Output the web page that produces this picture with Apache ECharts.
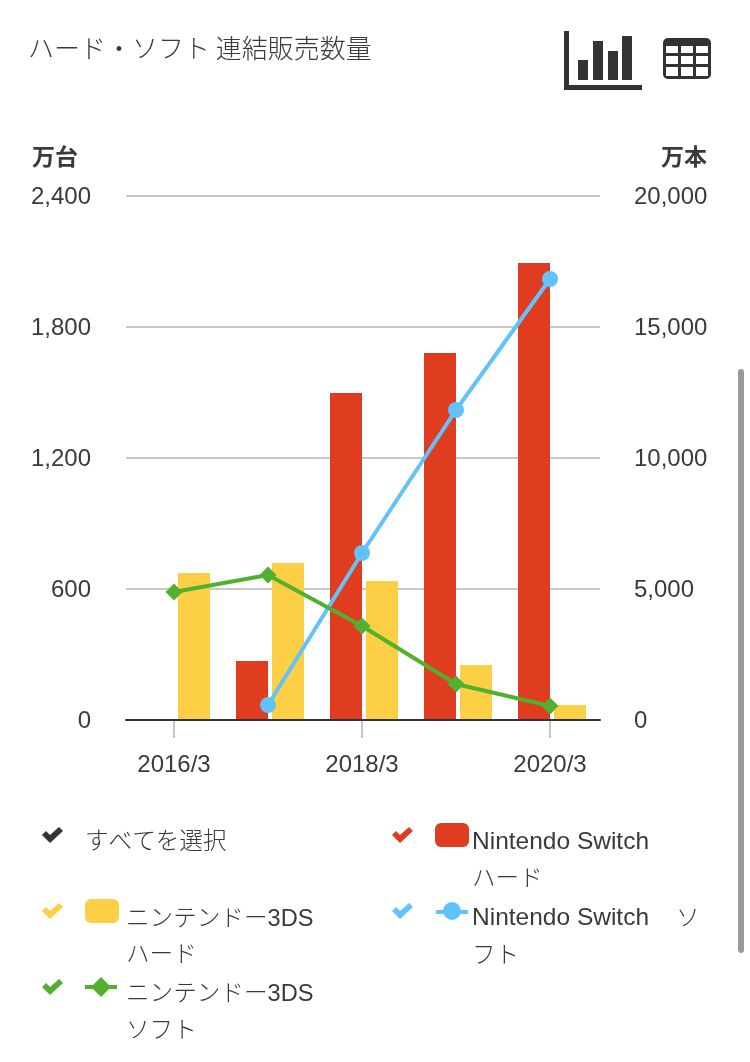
<!DOCTYPE html>
<html><head><meta charset="utf-8">
<style>html,body{margin:0;padding:0;background:#fff;overflow:hidden}#c{width:750px;height:1062px}</style>
<script src="https://cdn.jsdelivr.net/npm/echarts@6/dist/echarts.min.js"></script></head>
<body><div id="c"></div>
<script>
const categories = ['2016/3','2017/3','2018/3','2019/3','2020/3'];
const switchHard = [null,270,1498,1681,2093];
const ds3Hard = [673,719,637,252,69];
const ds3Soft = [4885,5534,3588,1374,534];
const switchSoft = [null,573,6374,11832,16832];
const FONT = '"Liberation Sans","Noto Sans CJK JP",sans-serif';
const CJK = '"Noto Sans CJK JP",sans-serif';
const TXT = '#3a3a3a';
const RED='#e03c1f', YEL='#fdcf45', GRN='#52b02f', BLU='#62c2fb', DARK='#333333';
const fmt = v => v.toLocaleString('en-US');
function chk(x,y,c){
  const pts=[[0,8],[4,4],[8,8],[17,0],[21,4],[8,16]].map(p=>[x+p[0],y+p[1]]);
  return {type:'polygon',shape:{points:pts},style:{fill:c}};
}
function txt(x,y,s,o){return {type:'text',x:x,y:y,style:Object.assign({text:s,font:'300 23.6px '+FONT,fill:TXT,textVerticalAlign:'middle'},o||{})};}
function tableIcon(){
  const els=[{type:'rect',shape:{x:663,y:38,width:48,height:41,r:5},style:{fill:DARK}}];
  [666,681,696].forEach(x=>[[46,7],[56,8],[67,9]].forEach(r=>{
    els.push({type:'rect',shape:{x:x,y:r[0],width:12,height:r[1]},style:{fill:'#fff'}});
  }));
  return els;
}
const NS = {font:'300 24.5px '+FONT};
const chart = echarts.init(document.getElementById('c'),null,{renderer:'canvas'});
chart.setOption({
  animation:false,
  grid:[
    {left:126,width:474,top:196,height:524},
    {left:127,width:470,top:196,height:524}
  ],
  xAxis:[
    {type:'category',gridIndex:0,data:categories,z:3,
      axisLine:{lineStyle:{color:'#333',width:2}},axisTick:{show:false},axisLabel:{show:false}},
    {type:'category',gridIndex:1,data:categories,
      axisLine:{show:false},
      axisTick:{show:true,alignWithLabel:true,length:18,lineStyle:{color:'#c8c8c8',width:2}},
      axisLabel:{show:true,interval:1,margin:33,fontFamily:FONT,fontSize:24,color:TXT}}
  ],
  yAxis:[
    {type:'value',gridIndex:0,min:0,max:2400,interval:600,
      axisLine:{show:false},axisTick:{show:false},axisLabel:{show:false},
      splitLine:{lineStyle:{color:'#c8c8c8',width:2}}},
    {type:'value',gridIndex:1,min:0,max:2400,interval:600,position:'left',
      axisLine:{show:false},axisTick:{show:false},splitLine:{show:false},
      axisLabel:{margin:36,verticalAlign:'top',lineHeight:3,fontFamily:FONT,fontSize:24,color:TXT,formatter:fmt}},
    {type:'value',gridIndex:1,min:0,max:20000,interval:5000,position:'right',
      axisLine:{show:false},axisTick:{show:false},splitLine:{show:false},
      axisLabel:{margin:37,verticalAlign:'top',lineHeight:3,fontFamily:FONT,fontSize:24,color:TXT,formatter:fmt}}
  ],
  series:[
    {name:'spacer',type:'bar',xAxisIndex:1,yAxisIndex:1,data:[],barWidth:3.556,barGap:'12.5%',silent:true},
    {name:'Nintendo Switch ハード',type:'bar',xAxisIndex:1,yAxisIndex:1,data:switchHard,barWidth:32,barGap:'12.5%',itemStyle:{color:RED},z:2},
    {name:'ニンテンドー3DS ハード',type:'bar',xAxisIndex:1,yAxisIndex:1,data:ds3Hard,barWidth:32,barGap:'12.5%',itemStyle:{color:YEL},z:2},
    {name:'Nintendo Switch ソフト',type:'line',xAxisIndex:1,yAxisIndex:2,data:switchSoft,symbol:'circle',symbolSize:16,
      lineStyle:{color:BLU,width:4},itemStyle:{color:BLU},z:5},
    {name:'ニンテンドー3DS ソフト',type:'line',xAxisIndex:1,yAxisIndex:2,data:ds3Soft,symbol:'diamond',symbolSize:17,
      lineStyle:{color:GRN,width:4},itemStyle:{color:GRN},z:6}
  ],
  graphic:[
    txt(28,48,'ハード・ソフト 連結販売数量',{font:'300 26px '+CJK}),
    txt(32,156,'万台',{font:'bold 23px '+CJK}),
    {type:'text',x:707,y:156,style:{text:'万本',font:'bold 23px '+CJK,fill:TXT,textAlign:'right',textVerticalAlign:'middle'}},
    {type:'rect',shape:{x:564,y:31,width:5,height:59},style:{fill:DARK}},
    {type:'rect',shape:{x:564,y:85,width:78,height:5},style:{fill:DARK}},
    {type:'rect',shape:{x:578,y:60,width:10,height:20},style:{fill:DARK}},
    {type:'rect',shape:{x:593,y:41,width:10,height:39},style:{fill:DARK}},
    {type:'rect',shape:{x:608,y:51,width:10,height:29},style:{fill:DARK}},
    {type:'rect',shape:{x:622,y:36,width:10,height:44},style:{fill:DARK}},
    ...tableIcon(),
    chk(42,827,DARK), txt(85,842,'すべてを選択'),
    chk(392,827,RED),
    {type:'rect',shape:{x:435,y:823,width:34,height:24,r:6},style:{fill:RED}},
    txt(472,842,'Nintendo Switch',NS), txt(472,879,'ハード'),
    chk(42,903,YEL),
    {type:'rect',shape:{x:85,y:899,width:34,height:24,r:6},style:{fill:YEL}},
    txt(126,919,'ニンテンドー3DS'), txt(126,955,'ハード'),
    chk(392,903,BLU),
    {type:'rect',shape:{x:436,y:910,width:32,height:4},style:{fill:BLU}},
    {type:'circle',shape:{cx:452,cy:911,r:9},style:{fill:BLU}},
    txt(472,918,'Nintendo Switch',NS), txt(676,919,'ソ'), txt(472,956,'フト'),
    chk(42,979,GRN),
    {type:'rect',shape:{x:85,y:985,width:32,height:4},style:{fill:GRN}},
    {type:'polygon',shape:{points:[[91,987],[101,977],[111,987],[101,997]]},style:{fill:GRN}},
    txt(126,994,'ニンテンドー3DS'), txt(126,1031,'ソフト'),
    {type:'rect',shape:{x:738,y:369,width:6,height:584,r:3},style:{fill:'#9a9a9a'}}
  ]
});
</script></body></html>
